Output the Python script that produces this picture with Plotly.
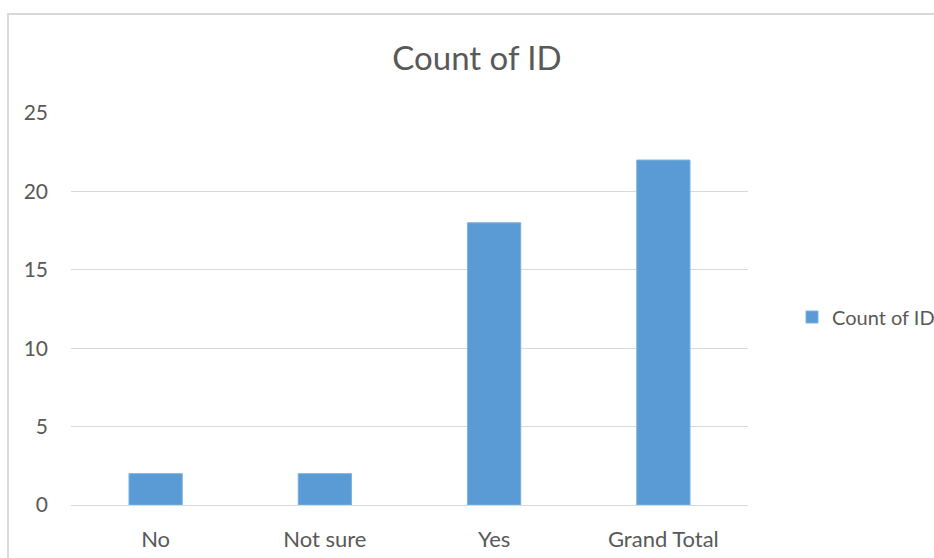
import plotly.graph_objects as go

categories = ["No", "Not sure", "Yes", "Grand Total"]
counts = [2, 2, 18, 22]
series_name = "Count of ID"
title_text = "Count of ID"
y_ticks = [0, 5, 10, 15, 20, 25]

W, H = 934, 558
L, R, T, B = 71, 748, 113, 505

FONT = "Lato, Open Sans, sans-serif"
TXT = "#595959"

fig = go.Figure()
fig.add_trace(go.Bar(
    x=categories, y=counts, name=series_name,
    marker=dict(color="#5B9BD5", line=dict(color="#7FB2E0", width=1)),
    width=0.315, showlegend=True,
))

pw, ph = R - L, B - T
def px_x(p):
    return (p - L) / pw
def px_y(p):
    return (B - p) / ph

fig.add_shape(type="rect", xref="paper", yref="paper",
              x0=px_x(8), x1=px_x(940), y0=px_y(570), y1=px_y(14),
              line=dict(color="#D9D9D9", width=2), fillcolor="rgba(0,0,0,0)", layer="below")

fig.update_layout(
    width=W, height=H,
    margin=dict(l=L, r=W - R, t=T, b=H - B, pad=0, autoexpand=False),
    paper_bgcolor="white", plot_bgcolor="white",
    font=dict(family=FONT, color=TXT, size=20),
    title=dict(text=title_text, x=477 / W, xref="container", xanchor="center",
               y=1 - 58 / H, yref="container", yanchor="middle",
               font=dict(size=33, color=TXT, family=FONT)),
    bargap=0.685,
    showlegend=True,
    legend=dict(x=px_x(792), y=px_y(317), xanchor="left", yanchor="middle",
                font=dict(size=20, color=TXT, family=FONT),
                itemwidth=30, bgcolor="rgba(0,0,0,0)"),
    xaxis=dict(showgrid=False, showline=False, ticks="", zeroline=False,
               tickfont=dict(size=22, color=TXT), ticklabelstandoff=19),
    yaxis=dict(range=[0, 25], tickvals=y_ticks, showgrid=True, gridcolor="#D9D9D9",
               gridwidth=1, zeroline=True, zerolinecolor="#D9D9D9", zerolinewidth=1,
               showline=False, ticks="", tickfont=dict(size=21, color=TXT),
               ticklabelstandoff=22),
)

fig.write_html("out.html")
